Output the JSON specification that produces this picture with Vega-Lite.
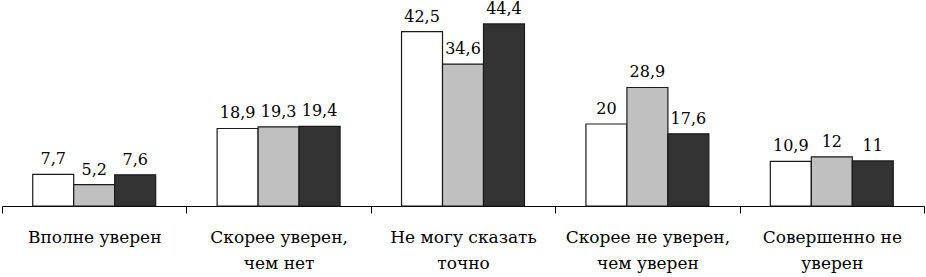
{
  "$schema": "https://vega.github.io/schema/vega-lite/v6.json",
  "width": 922,
  "height": 203,
  "autosize": "none",
  "padding": {"left": 2, "top": 3, "right": 2, "bottom": 71},
  "background": "white",
  "config": {"view": {"stroke": null}, "font": "DejaVu Serif"},
  "data": {
    "values": [
      {"cat": "Вполне уверен", "s": "A", "v": 7.7, "t": "7,7"},
      {"cat": "Вполне уверен", "s": "B", "v": 5.2, "t": "5,2"},
      {"cat": "Вполне уверен", "s": "C", "v": 7.6, "t": "7,6"},
      {"cat": "Скорее уверен, чем нет", "s": "A", "v": 18.9, "t": "18,9"},
      {"cat": "Скорее уверен, чем нет", "s": "B", "v": 19.3, "t": "19,3"},
      {"cat": "Скорее уверен, чем нет", "s": "C", "v": 19.4, "t": "19,4"},
      {"cat": "Не могу сказать точно", "s": "A", "v": 42.5, "t": "42,5"},
      {"cat": "Не могу сказать точно", "s": "B", "v": 34.6, "t": "34,6"},
      {"cat": "Не могу сказать точно", "s": "C", "v": 44.4, "t": "44,4"},
      {"cat": "Скорее не уверен, чем уверен", "s": "A", "v": 20, "t": "20"},
      {"cat": "Скорее не уверен, чем уверен", "s": "B", "v": 28.9, "t": "28,9"},
      {"cat": "Скорее не уверен, чем уверен", "s": "C", "v": 17.6, "t": "17,6"},
      {"cat": "Совершенно не уверен", "s": "A", "v": 10.9, "t": "10,9"},
      {"cat": "Совершенно не уверен", "s": "B", "v": 12, "t": "12"},
      {"cat": "Совершенно не уверен", "s": "C", "v": 11, "t": "11"}
    ]
  },
  "encoding": {
    "x": {
      "field": "cat",
      "type": "nominal",
      "sort": null,
      "scale": {"paddingInner": 0, "paddingOuter": 0},
      "axis": {
        "title": null,
        "labelAngle": 0,
        "domainColor": "black",
        "domainWidth": 1,
        "tickColor": "black",
        "tickBand": "extent",
        "tickSize": 7,
        "labelFont": "DejaVu Serif",
        "labelFontSize": 17,
        "labelColor": "black",
        "labelPadding": 16,
        "labelLineHeight": 26,
        "labelExpr": "datum.label == 'Скорее уверен, чем нет' ? ['Скорее уверен,', 'чем нет'] : datum.label == 'Не могу сказать точно' ? ['Не могу сказать', 'точно'] : datum.label == 'Скорее не уверен, чем уверен' ? ['Скорее не уверен,', 'чем уверен'] : datum.label == 'Совершенно не уверен' ? ['Совершенно не', 'уверен'] : datum.label"
      }
    },
    "xOffset": {
      "field": "s",
      "type": "nominal",
      "scale": {"paddingInner": 0, "paddingOuter": 0.75}
    },
    "y": {
      "field": "v",
      "type": "quantitative",
      "scale": {"domain": [0, 49.5], "nice": false},
      "axis": null
    }
  },
  "layer": [
    {
      "mark": {"type": "bar", "stroke": "#1a1a1a", "strokeWidth": 1.2},
      "encoding": {
        "fill": {
          "field": "s",
          "type": "nominal",
          "scale": {"domain": ["A", "B", "C"], "range": ["#ffffff", "#c0c0c0", "#333333"]},
          "legend": null
        }
      }
    },
    {
      "mark": {"type": "text", "baseline": "alphabetic", "dy": -10, "fontSize": 16, "font": "DejaVu Serif", "color": "black"},
      "encoding": {"text": {"field": "t"}}
    }
  ]
}
